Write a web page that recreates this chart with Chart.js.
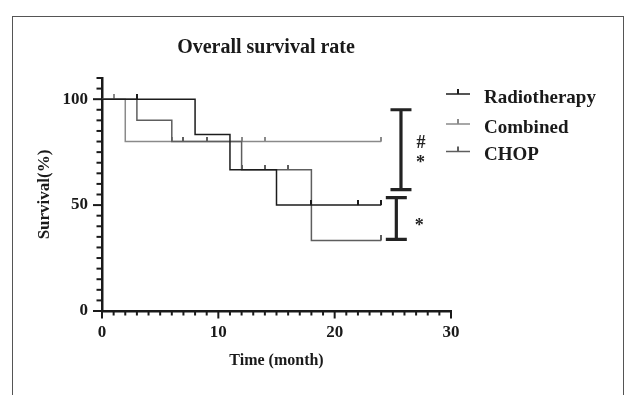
<!DOCTYPE html>
<html>
<head>
<meta charset="utf-8">
<script src="https://cdn.jsdelivr.net/npm/chart.js@4.4.1/dist/chart.umd.min.js"></script>
<style>
  html, body { margin: 0; padding: 0; background: #fff; width: 630px; height: 395px; overflow: hidden; }
  #frame { position: absolute; left: 12px; top: 16px; width: 612px; height: 500px; border: 1.5px solid #555; box-sizing: border-box; }
  #c { position: absolute; left: 0; top: 0; }
</style>
</head>
<body>
<div id="frame"></div>
<canvas id="c" width="630" height="395"></canvas>
<script>
// ---- data ----
const chartTitle = 'Overall survival rate';
const xTitle = 'Time (month)';
const yTitle = 'Survival(%)';
const seriesNames = ['Radiotherapy', 'Combined', 'CHOP'];
const seriesColors = ['#1c1c1c', '#8a8a8a', '#5e5e5e'];

// Kaplan-Meier step curves (time in months, survival %)
const radioTimes = [0, 8, 11, 15, 24];
const radioSurv  = [100, 83.3, 66.7, 50, 50];
const combinedTimes = [0, 2, 24];
const combinedSurv  = [100, 80, 80];
const chopTimes = [0, 3, 6, 12, 18, 24];
const chopSurv  = [100, 90, 80, 66.7, 33.3, 33.3];

// censored observations
const radioCensorTimes = [3, 18, 22, 24];
const radioCensorSurv  = [100, 50, 50, 50];
const combinedCensorTimes = [1, 6, 12, 14, 24];
const combinedCensorSurv  = [100, 80, 80, 80, 80];
const chopCensorTimes = [7, 9, 12, 14, 16, 24];
const chopCensorSurv  = [80, 80, 66.7, 66.7, 66.7, 33.3];

const xTickValues = [0, 10, 20, 30];
const yTickValues = [0, 50, 100];
const xMinorStep = 1;
const yMinorStep = 5;

// significance brackets (annotation, in data units)
const brackets = [
  { x: 25.7, top: 95, bottom: 57.3, marks: ['#', '*'] },
  { x: 25.3, top: 53.5, bottom: 33.8, marks: ['*'] }
];

// ---- helpers ----
const FONT = '"Liberation Serif", "Times New Roman", serif';
const AXIS = '#1a1a1a';
function pts(xs, ys) { return xs.map((x, i) => ({ x: x, y: ys[i] })); }
function censorMark(color) {
  const c = document.createElement('canvas');
  c.width = 2; c.height = 10;
  const g = c.getContext('2d');
  g.fillStyle = color;
  g.fillRect(0, 0, 2, 5);
  return c;
}
function stepSet(label, data, color, order) {
  return { label, data, borderColor: color, borderWidth: 1.5, stepped: true, pointRadius: 0, fill: false, order };
}
function censorSet(label, data, color, order) {
  return { label, data, showLine: false, pointStyle: censorMark(color), pointRadius: 5, order };
}

const decorPlugin = {
  id: 'decor',
  afterDraw(chart) {
    const { ctx, scales: { x, y } } = chart;
    ctx.save();
    // axis ticks
    ctx.strokeStyle = AXIS;
    ctx.lineWidth = 2;
    for (let m = x.min; m <= x.max; m += xMinorStep) {
      const px = x.getPixelForValue(m);
      const major = xTickValues.includes(m);
      ctx.beginPath();
      ctx.moveTo(px, y.bottom);
      ctx.lineTo(px, y.bottom + (major ? 7.5 : 4.5));
      ctx.stroke();
    }
    for (let v = y.min; v <= y.max; v += yMinorStep) {
      const py = y.getPixelForValue(v);
      const major = yTickValues.includes(v);
      ctx.beginPath();
      ctx.moveTo(x.left, py);
      ctx.lineTo(x.left - (major ? 9 : 5.5), py);
      ctx.stroke();
    }
    // brackets
    ctx.strokeStyle = '#222';
    ctx.fillStyle = '#222';
    brackets.forEach(b => {
      const px = x.getPixelForValue(b.x);
      const t = y.getPixelForValue(b.top);
      const bt = y.getPixelForValue(b.bottom);
      ctx.lineWidth = 3.2;
      ctx.beginPath();
      ctx.moveTo(px, t); ctx.lineTo(px, bt);
      ctx.moveTo(px - 10.5, t); ctx.lineTo(px + 10.5, t);
      ctx.moveTo(px - 10.5, bt); ctx.lineTo(px + 10.5, bt);
      ctx.stroke();
      ctx.font = 'bold 18px ' + FONT;
      ctx.textAlign = 'center';
      ctx.textBaseline = 'middle';
      const mid = (t + bt) / 2;
      if (b.marks.length === 2) {
        ctx.fillText(b.marks[0], px + 20, mid - 6);
        ctx.fillText(b.marks[1], px + 19.5, mid + 14);
      } else {
        ctx.fillText(b.marks[0], px + 23, mid + 8);
      }
    });
    // title
    ctx.fillStyle = '#1a1a1a';
    ctx.font = 'bold 20px ' + FONT;
    ctx.textAlign = 'center';
    ctx.textBaseline = 'alphabetic';
    ctx.fillText(chartTitle, 266, 53);
    // legend
    const rows = [94, 124, 151.5];
    seriesNames.forEach((name, i) => {
      const ly = rows[i];
      ctx.strokeStyle = seriesColors[i];
      ctx.lineWidth = 1.5;
      ctx.beginPath();
      ctx.moveTo(446, ly); ctx.lineTo(470, ly);
      ctx.stroke();
      ctx.fillStyle = seriesColors[i];
      ctx.fillRect(457, ly - 5, 2, 5);
      ctx.fillStyle = '#1a1a1a';
      ctx.font = 'bold 19px ' + FONT;
      ctx.textAlign = 'left';
      ctx.textBaseline = 'alphabetic';
      ctx.fillText(name, 484, ly + 8.5);
    });
    ctx.restore();
  }
};

new Chart(document.getElementById('c'), {
  type: 'line',
  data: {
    datasets: [
      stepSet(seriesNames[1], pts(combinedTimes, combinedSurv), seriesColors[1], 3),
      stepSet(seriesNames[2], pts(chopTimes, chopSurv), seriesColors[2], 2),
      stepSet(seriesNames[0], pts(radioTimes, radioSurv), seriesColors[0], 1),
      censorSet(seriesNames[1] + ' censored', pts(combinedCensorTimes, combinedCensorSurv), seriesColors[1], 3),
      censorSet(seriesNames[2] + ' censored', pts(chopCensorTimes, chopCensorSurv), seriesColors[2], 2),
      censorSet(seriesNames[0] + ' censored', pts(radioCensorTimes, radioCensorSurv), seriesColors[0], 1)
    ]
  },
  options: {
    responsive: false,
    animation: false,
    devicePixelRatio: 1,
    layout: { padding: { left: 0, right: 179, top: 78, bottom: 0 } },
    plugins: { legend: { display: false }, title: { display: false }, tooltip: { enabled: false } },
    scales: {
      x: {
        type: 'linear', min: 0, max: 30,
        afterFit(s) { s.height = 84; },
        afterBuildTicks(s) { s.ticks = xTickValues.map(v => ({ value: v })); },
        ticks: { color: '#1a1a1a', font: { family: FONT, size: 17, weight: 'bold' }, padding: 11, maxRotation: 0, autoSkip: false },
        grid: { display: false, drawTicks: false },
        border: { display: true, width: 2.5, color: AXIS },
        title: { display: true, text: xTitle, color: '#1a1a1a', font: { family: FONT, size: 16, weight: 'bold' }, padding: { top: 0, bottom: 25 } }
      },
      y: {
        type: 'linear', min: 0, max: 110,
        afterFit(s) { s.width = 102; },
        afterBuildTicks(s) { s.ticks = yTickValues.map(v => ({ value: v })); },
        ticks: { color: '#1a1a1a', font: { family: FONT, size: 17, weight: 'bold' }, padding: 14, autoSkip: false },
        grid: { display: false, drawTicks: false },
        border: { display: true, width: 2.5, color: AXIS },
        title: { display: true, text: yTitle, color: '#1a1a1a', font: { family: FONT, size: 17, weight: 'bold' }, padding: { top: 34, bottom: 0 } }
      }
    }
  },
  plugins: [decorPlugin]
});
</script>
</body>
</html>
